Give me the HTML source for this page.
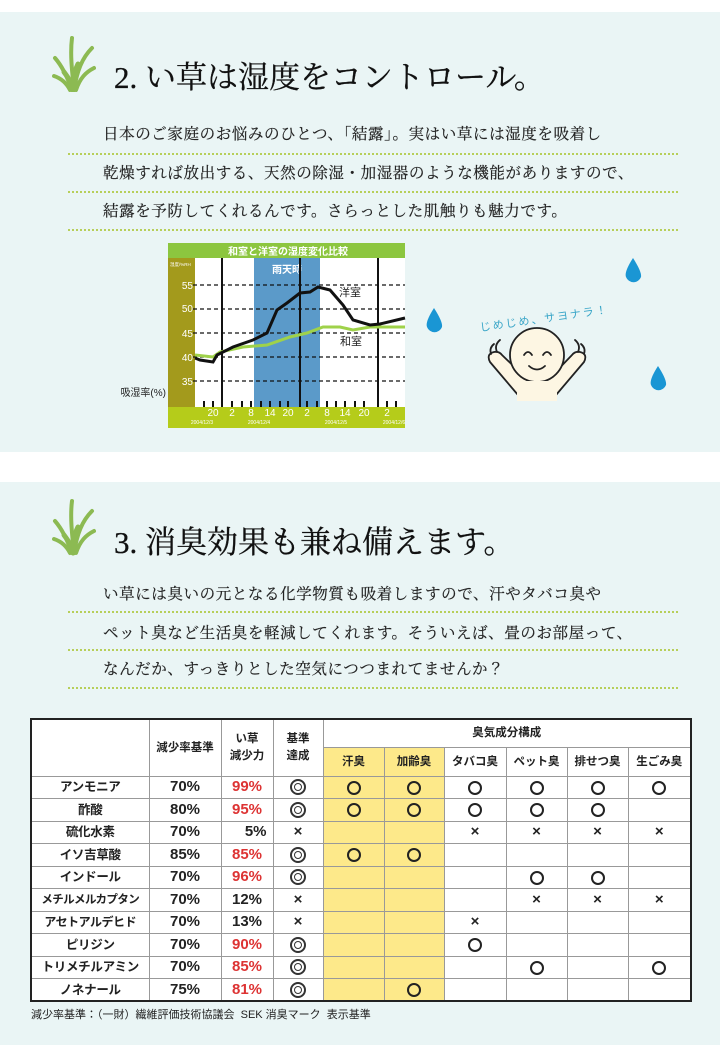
<!DOCTYPE html>
<html><head><meta charset="utf-8"><style>
*{margin:0;padding:0;box-sizing:border-box}
body{width:720px;height:1045px;background:#fff;position:relative;overflow:hidden;font-family:"Liberation Serif","Noto Serif CJK JP","Noto Serif CJK SC",serif;color:#222}
.sec{position:absolute;left:0;width:720px;background:#eaf5f5}
.abs{position:absolute;white-space:nowrap}
.h{font-size:31px;color:#111;-webkit-text-stroke:0.3px #111}
.p{font-size:15.5px;letter-spacing:0.6px;color:#222;-webkit-text-stroke:0.2px #222}
.dot{position:absolute;left:68px;width:610px;border-top:2px dotted #b7cf5a;height:0}
table{position:absolute;left:30px;top:718px;width:660px;border-collapse:collapse;border:2px solid #222;background:#fff;font-family:"Liberation Sans","Noto Sans CJK JP",sans-serif;font-weight:bold;table-layout:fixed}
td{border:1px solid #999;text-align:center;font-size:13px;height:22.5px;line-height:14px;padding:0;color:#222;white-space:nowrap;overflow:hidden}
td.big{font-size:15px}
td.r{color:#d33}
td.y{background:#fde98a}
td.s{font-size:11.5px}
td.n{font-size:12.5px;letter-spacing:-0.3px}
td.x{font-size:15px}
.o{display:inline-block;width:14px;height:14px;border:2px solid #222;border-radius:50%;vertical-align:middle}
.oo{display:inline-block;width:16px;height:16px;border:2px solid #333;border-radius:50%;vertical-align:middle;position:relative}
.oo::after{content:"";position:absolute;left:2px;top:2px;width:8px;height:8px;border:1.5px solid #333;border-radius:50%;box-sizing:border-box}
</style></head><body>
<div class="sec" style="top:12px;height:440px"></div>
<div class="sec" style="top:482px;height:563px"></div>

<svg class="abs" style="left:52px;top:36px" width="44" height="56" viewBox="0 0 44 56">
<g fill="none" stroke="#8cba52" stroke-linecap="round">
<path d="M22 54 C20 35 18 18 20 2" stroke-width="4"/><path d="M22 54 C25 35 30 22 40 12" stroke-width="4"/><path d="M20 54 C15 40 10 30 3 22" stroke-width="4"/><path d="M24 54 C28 42 34 36 42 32" stroke-width="4"/><path d="M18 54 C14 46 8 42 2 40" stroke-width="4"/><path d="M21 54 C20 44 22 36 26 28" stroke-width="5"/><path d="M21 54 C19 45 15 40 12 36" stroke-width="5"/></g></svg>
<div class="abs h" style="left:114px;top:52px">2.&nbsp;い草は湿度をコントロール。</div>
<div class="abs p" style="left:103px;top:122px">日本のご家庭のお悩みのひとつ、「結露」。実はい草には湿度を吸着し</div>
<div class="dot" style="top:153px"></div>
<div class="abs p" style="left:103px;top:161px">乾燥すれば放出する、天然の除湿・加湿器のような機能がありますので、</div>
<div class="dot" style="top:191px"></div>
<div class="abs p" style="left:103px;top:199px">結露を予防してくれるんです。さらっとした肌触りも魅力です。</div>
<div class="dot" style="top:229px"></div>

<svg class="abs" style="left:110px;top:240px" width="300" height="190" viewBox="110 240 300 190" font-family="Liberation Sans,Noto Sans CJK JP,sans-serif">
<rect x="168" y="243" width="237" height="185" fill="#8cc63f"/>
<rect x="168" y="258" width="27" height="149" fill="#a39a1c"/>
<rect x="195" y="258" width="210" height="149" fill="#fff"/>
<rect x="254" y="258" width="66" height="149" fill="#5b9ac9"/>
<rect x="168" y="407" width="237" height="21" fill="#b5cc1a"/>
<text x="288" y="255" fill="#fff" font-size="10" font-weight="bold" text-anchor="middle">和室と洋室の湿度変化比較</text>
<text x="287" y="273" fill="#fff" font-size="10" font-weight="bold" text-anchor="middle">雨天時</text>
<text x="170" y="266" fill="#fff" font-size="4.5">湿度/%RH</text>
<g fill="#fff" font-size="10" text-anchor="end"><text x="193" y="289">55</text><text x="193" y="312">50</text><text x="193" y="337">45</text><text x="193" y="361">40</text><text x="193" y="385">35</text></g>
<text x="166" y="396" fill="#222" font-size="10" text-anchor="end">吸湿率(%)</text>
<g stroke="#111" stroke-width="1.3" stroke-dasharray="4,3"><line x1="193" y1="285" x2="405" y2="285"/><line x1="193" y1="309" x2="405" y2="309"/><line x1="193" y1="333" x2="405" y2="333"/><line x1="193" y1="357" x2="405" y2="357"/><line x1="193" y1="381" x2="405" y2="381"/></g>
<g stroke="#111" stroke-width="2"><line x1="222" y1="258" x2="222" y2="407"/><line x1="300" y1="258" x2="300" y2="407"/><line x1="378" y1="258" x2="378" y2="407"/></g>
<g stroke="#111" stroke-width="2"><path d="M204 401v6M213 401v6M232 401v6M242 401v6M251 401v6M261 401v6M270 401v6M280 401v6M288 401v6M307 401v6M317 401v6M327 401v6M336 401v6M345 401v6M355 401v6M364 401v6M387 401v6M396 401v6"/></g>
<polyline fill="none" stroke="#9fd24a" stroke-width="3" points="195,355 213,357 220,352 243,347 267,345 290,337 307,333 323,327 340,327 353,330 370,327 405,327"/>
<polyline fill="none" stroke="#111" stroke-width="3" points="195,358 200,360 213,362 217,355 233,347 253,340 267,333 277,310 287,303 300,293 310,292 318,287 330,290 343,305 353,320 370,325 380,324 405,318"/>
<text x="339" y="296" fill="#222" font-size="11">洋室</text>
<text x="340" y="345" fill="#222" font-size="11">和室</text>
<g fill="#fff" font-size="10" text-anchor="middle"><text x="213" y="416">20</text><text x="232" y="416">2</text><text x="251" y="416">8</text><text x="270" y="416">14</text><text x="288" y="416">20</text><text x="307" y="416">2</text><text x="327" y="416">8</text><text x="345" y="416">14</text><text x="364" y="416">20</text><text x="387" y="416">2</text></g>
<g fill="#fff" font-size="5" text-anchor="middle"><text x="202" y="424">2004/12/3</text><text x="259" y="424">2004/12/4</text><text x="336" y="424">2004/12/5</text><text x="394" y="424">2004/12/6</text></g>
</svg>

<svg class="abs" style="left:420px;top:250px" width="260" height="160" viewBox="420 250 260 160">
<g fill="#1a96d4"><path d="M434 308 q-9 14 -7 19 a8 8 0 0 0 15 0 q1-5 -8-19z"/><path d="M633 258 q-9 14 -7 19 a8 8 0 0 0 15 0 q1-5 -8-19z"/><path d="M658 366 q-9 14 -7 19 a8 8 0 0 0 15 0 q1-5 -8-19z"/></g>
<text x="478" y="322" fill="#3aa6c8" font-size="11" font-family="Liberation Sans,Noto Sans CJK JP,sans-serif" transform="rotate(-8 545 310)" letter-spacing="2">じめじめ、サヨナラ！</text>
<g stroke="#222" stroke-width="1.8" fill="#fdf6e3" stroke-linejoin="round">
<path d="M518 395 L490 362 q-4 -8 4 -10 q5 -1 8 3 L528 380"/>
<path d="M556 395 L584 362 q4 -8 -4 -10 q-5 -1 -8 3 L548 380"/>
<circle cx="537" cy="355" r="27"/>
</g>
<rect x="517" y="381" width="40" height="20" fill="#fdf6e3"/>
<g fill="none" stroke="#222" stroke-width="1.8" stroke-linecap="round"><path d="M524 355 q4-6 8 0"/><path d="M543 355 q4-6 8 0"/><path d="M529 366 q8 7 16 0"/><path d="M494 344 q-5 4 -3 10"/><path d="M500 340 q-6 5 -3 12"/><path d="M581 344 q5 4 3 10"/><path d="M575 340 q6 5 3 12"/></g>
</svg>

<svg class="abs" style="left:52px;top:497px" width="44" height="60" viewBox="0 0 44 56">
<g fill="none" stroke="#8cba52" stroke-linecap="round">
<path d="M22 54 C20 35 18 18 20 2" stroke-width="4"/><path d="M22 54 C25 35 30 22 40 12" stroke-width="4"/><path d="M20 54 C15 40 10 30 3 22" stroke-width="4"/><path d="M24 54 C28 42 34 36 42 32" stroke-width="4"/><path d="M18 54 C14 46 8 42 2 40" stroke-width="4"/><path d="M21 54 C20 44 22 36 26 28" stroke-width="5"/><path d="M21 54 C19 45 15 40 12 36" stroke-width="5"/></g></svg>
<div class="abs h" style="left:114px;top:517px">3.&nbsp;消臭効果も兼ね備えます。</div>
<div class="abs p" style="left:103px;top:582px">い草には臭いの元となる化学物質も吸着しますので、汗やタバコ臭や</div>
<div class="dot" style="top:611px"></div>
<div class="abs p" style="left:103px;top:621px">ペット臭など生活臭を軽減してくれます。そういえば、畳のお部屋って、</div>
<div class="dot" style="top:649px"></div>
<div class="abs p" style="left:103px;top:657px">なんだか、すっきりとした空気につつまれてませんか？</div>
<div class="dot" style="top:687px"></div>

<table>
<colgroup><col style="width:118px"><col style="width:72px"><col style="width:52px"><col style="width:50px"><col style="width:61px"><col style="width:60px"><col style="width:62px"><col style="width:61px"><col style="width:61px"><col style="width:63px"></colgroup>
<tr><td rowspan="2"></td><td rowspan="2" class="s">減少率基準</td><td rowspan="2" class="s" style="line-height:17px">い草<br>減少力</td><td rowspan="2" class="s" style="line-height:17px">基準<br>達成</td><td colspan="6" class="s" style="height:28px">臭気成分構成</td></tr>
<tr><td class="y s" style="height:29px">汗臭</td><td class="y s">加齢臭</td><td class="s">タバコ臭</td><td class="s">ペット臭</td><td class="s">排せつ臭</td><td class="s">生ごみ臭</td></tr>
<tr><td class="n">アンモニア</td><td class="big">70%</td><td class="big r">99%</td><td><span class="oo"></span></td><td class="y"><span class="o"></span></td><td class="y"><span class="o"></span></td><td><span class="o"></span></td><td><span class="o"></span></td><td><span class="o"></span></td><td><span class="o"></span></td></tr>
<tr><td class="n">酢酸</td><td class="big">80%</td><td class="big r">95%</td><td><span class="oo"></span></td><td class="y"><span class="o"></span></td><td class="y"><span class="o"></span></td><td><span class="o"></span></td><td><span class="o"></span></td><td><span class="o"></span></td><td></td></tr>
<tr><td class="n">硫化水素</td><td class="big">70%</td><td class="big" style="text-align:right;padding-right:6px">5%</td><td class="x">×</td><td class="y"></td><td class="y"></td><td class="x">×</td><td class="x">×</td><td class="x">×</td><td class="x">×</td></tr>
<tr><td class="n">イソ吉草酸</td><td class="big">85%</td><td class="big r">85%</td><td><span class="oo"></span></td><td class="y"><span class="o"></span></td><td class="y"><span class="o"></span></td><td></td><td></td><td></td><td></td></tr>
<tr><td class="n">インドール</td><td class="big">70%</td><td class="big r">96%</td><td><span class="oo"></span></td><td class="y"></td><td class="y"></td><td></td><td><span class="o"></span></td><td><span class="o"></span></td><td></td></tr>
<tr><td class="n" style="font-size:11.5px;letter-spacing:-0.6px">メチルメルカプタン</td><td class="big">70%</td><td class="big">12%</td><td class="x">×</td><td class="y"></td><td class="y"></td><td></td><td class="x">×</td><td class="x">×</td><td class="x">×</td></tr>
<tr><td class="n" style="font-size:12px;letter-spacing:-0.5px">アセトアルデヒド</td><td class="big">70%</td><td class="big">13%</td><td class="x">×</td><td class="y"></td><td class="y"></td><td class="x">×</td><td></td><td></td><td></td></tr>
<tr><td class="n">ピリジン</td><td class="big">70%</td><td class="big r">90%</td><td><span class="oo"></span></td><td class="y"></td><td class="y"></td><td><span class="o"></span></td><td></td><td></td><td></td></tr>
<tr><td class="n">トリメチルアミン</td><td class="big">70%</td><td class="big r">85%</td><td><span class="oo"></span></td><td class="y"></td><td class="y"></td><td></td><td><span class="o"></span></td><td></td><td><span class="o"></span></td></tr>
<tr><td class="n">ノネナール</td><td class="big">75%</td><td class="big r">81%</td><td><span class="oo"></span></td><td class="y"></td><td class="y"><span class="o"></span></td><td></td><td></td><td></td><td></td></tr>
</table>
<div class="abs" style="left:31px;top:1006px;font-size:11px;font-family:'Liberation Sans','Noto Sans CJK JP',sans-serif;color:#222">減少率基準：（一財）繊維評価技術協議会&nbsp;&nbsp;SEK 消臭マーク&nbsp;&nbsp;表示基準</div>
</body></html>
